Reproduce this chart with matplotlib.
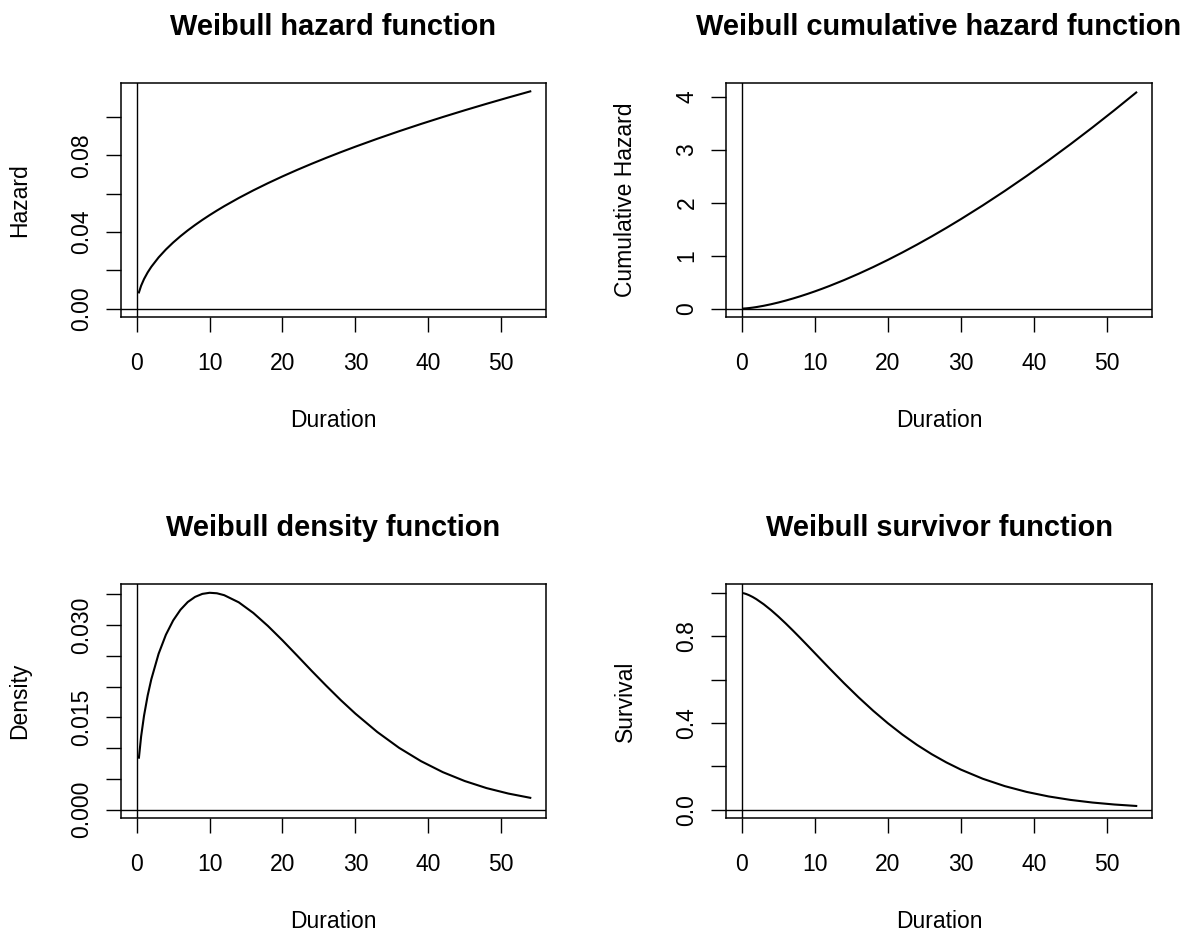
import matplotlib
matplotlib.use("Agg")
import matplotlib.pyplot as plt

plt.rcParams['font.family'] = ['Liberation Sans', 'DejaVu Sans']

# durations at which the fitted Weibull curves were evaluated
duration = [0.3, 0.6, 1, 1.5, 2, 3, 4, 5, 6, 7, 8, 9, 10, 11, 12, 14, 16, 18, 20,
            22, 24, 26, 28, 30, 33, 36, 39, 42, 45, 48, 51, 54]

hazard = [0.00845, 0.01194, 0.01542, 0.01889, 0.02181, 0.02671, 0.03084, 0.03448,
          0.03777, 0.04080, 0.04361, 0.04626, 0.04876, 0.05114, 0.05342, 0.05770,
          0.06168, 0.06542, 0.06896, 0.07233, 0.07554, 0.07863, 0.08160, 0.08446,
          0.08858, 0.09252, 0.09630, 0.09993, 0.10344, 0.10683, 0.11012, 0.11331]

cum_hazard = [0.00169, 0.00478, 0.01028, 0.01889, 0.02908, 0.05342, 0.08224, 0.11493,
              0.15109, 0.19039, 0.23261, 0.27756, 0.32508, 0.37505, 0.42733, 0.53850,
              0.65792, 0.78506, 0.91947, 1.06079, 1.20872, 1.36282, 1.52308, 1.68921,
              1.94878, 2.22048, 2.50369, 2.79811, 3.10322, 3.41861, 3.74408, 4.07931]

density = [0.00844, 0.01188, 0.01526, 0.01854, 0.02118, 0.02532, 0.02841, 0.03074,
           0.03247, 0.03373, 0.03456, 0.03505, 0.03523, 0.03515, 0.03484, 0.03368,
           0.03195, 0.02984, 0.02750, 0.02504, 0.02255, 0.02013, 0.01779, 0.01560,
           0.01262, 0.01004, 0.00788, 0.00609, 0.00465, 0.00350, 0.00261, 0.00192]

survival = [0.99831, 0.99523, 0.98977, 0.98129, 0.97134, 0.94798, 0.92105, 0.89144,
            0.85977, 0.82664, 0.79246, 0.75763, 0.72247, 0.68726, 0.65225, 0.58364,
            0.51793, 0.45609, 0.39874, 0.34616, 0.29857, 0.25596, 0.21806, 0.18467,
            0.14243, 0.10856, 0.08178, 0.06092, 0.04491, 0.03276, 0.02366, 0.01692]

x_ticks = [0, 10, 20, 30, 40, 50]

hazard_ticks = [0.0, 0.02, 0.04, 0.06, 0.08, 0.10]
hazard_labels = ['0.00', '', '0.04', '', '0.08', '']
cum_ticks = [0, 1, 2, 3, 4]
cum_labels = ['0', '1', '2', '3', '4']
density_ticks = [0.0, 0.005, 0.010, 0.015, 0.020, 0.025, 0.030, 0.035]
density_labels = ['0.000', '', '', '0.015', '', '', '0.030', '']
surv_ticks = [0.0, 0.2, 0.4, 0.6, 0.8, 1.0]
surv_labels = ['0.0', '', '0.4', '', '0.8', '']


def r_lim(lo, hi):
    # same 4% padding R uses for its axis ranges
    pad = (hi - lo) * 0.04
    return lo - pad, hi + pad


fig = plt.figure(figsize=(11.92, 9.33), dpi=100)
W, H = 1192.0, 933.0

# axes boxes in pixels: left, top, right, bottom
boxes = [(121, 82.7, 546, 317.3), (726, 82.7, 1152, 317.3),
         (121, 584.3, 546, 818.3), (726, 584.3, 1152, 818.3)]

panels = [
    ("Weibull hazard function", "Hazard", hazard, hazard_ticks, hazard_labels, r_lim(0, 0.1133)),
    ("Weibull cumulative hazard function", "Cumulative Hazard", cum_hazard, cum_ticks, cum_labels, r_lim(0, 4.10)),
    ("Weibull density function", "Density", density, density_ticks, density_labels, r_lim(0, 0.0352)),
    ("Weibull survivor function", "Survival", survival, surv_ticks, surv_labels, r_lim(0, 1.0)),
]

for (l, t, r, b), (title, ylab, yvals, yt, ytl, ylim) in zip(boxes, panels):
    ax = fig.add_axes([l / W, (H - b) / H, (r - l) / W, (b - t) / H])
    hpx = b - t
    ax.plot(duration, yvals, color='black', lw=1.5)
    ax.axhline(0, color='black', lw=1.0)
    ax.axvline(0, color='black', lw=1.0)
    ax.set_xlim(r_lim(0, 54))
    ax.set_ylim(ylim)

    ax.set_xticks(x_ticks)
    ax.set_yticks(yt)
    ax.set_yticklabels(ytl, rotation=90, va='center')
    ax.tick_params(axis='both', direction='out', length=10.8, width=1.0,
                   labelsize=16.5, colors='black')
    ax.tick_params(axis='x', pad=14)
    ax.tick_params(axis='y', pad=9)
    for sp in ax.spines.values():
        sp.set_linewidth(1.1)

    ax.set_title(title, fontsize=20.9, fontweight='bold', y=1 + 56 / hpx, va='center', pad=0)
    ax.set_xlabel("Duration", fontsize=16.5, va='center')
    ax.xaxis.set_label_coords(0.5, -103 / hpx)
    ax.set_ylabel(ylab, fontsize=16.5, va='center')
    ax.yaxis.set_label_coords(-101 / (r - l), 0.5)

fig.savefig("out.png", dpi=100, facecolor='white')
